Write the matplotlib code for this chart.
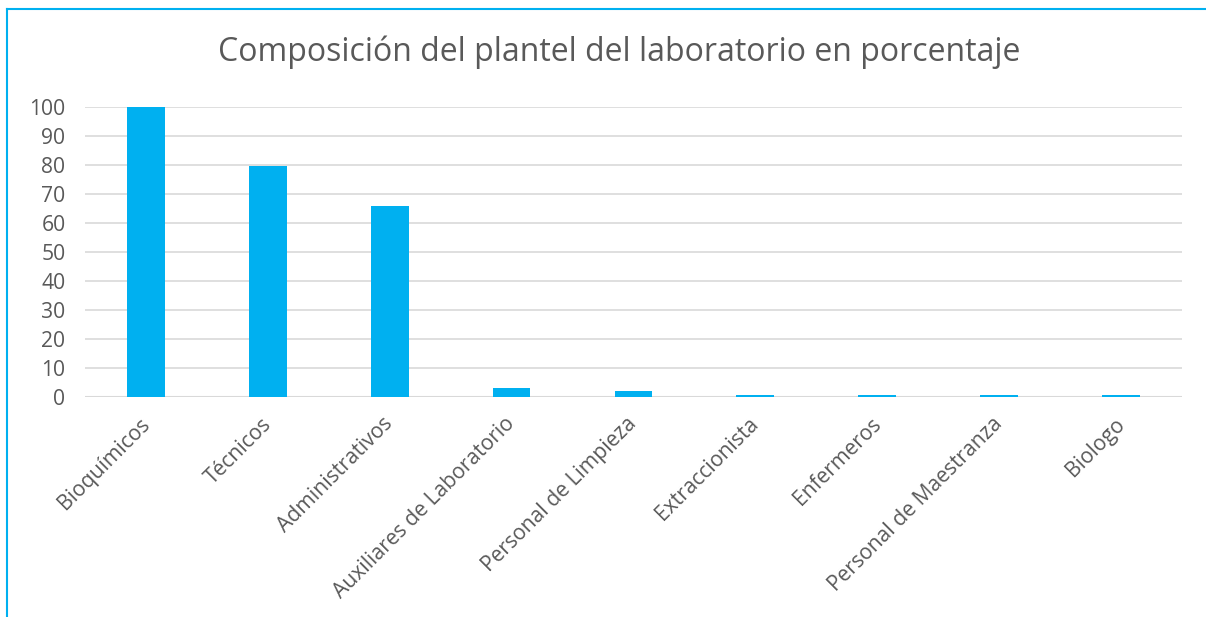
import matplotlib.pyplot as plt
from matplotlib.lines import Line2D
from matplotlib.transforms import ScaledTranslation

categorias = ["Bioquímicos", "Técnicos", "Administrativos", "Auxiliares de Laboratorio",
              "Personal de Limpieza", "Extraccionista", "Enfermeros",
              "Personal de Maestranza", "Biologo"]
porcentajes = [100, 79.5, 66, 3, 2, 0.8, 0.8, 0.8, 0.8]
yticks = list(range(0, 101, 10))

plt.rcParams['font.family'] = ['Open Sans', 'DejaVu Sans']

fig = plt.figure(figsize=(12.06, 6.17), dpi=100)
ax = fig.add_axes([0.0705, 0.3566, 0.9095, 0.47])

ax.bar(range(len(categorias)), porcentajes, width=0.31, color='#00B0F0', zorder=3)
ax.set_xlim(-0.5, len(categorias) - 0.5)
ax.set_ylim(0, 100)
ax.set_yticks(yticks)
ax.set_xticks(range(len(categorias)))
ax.set_xticklabels(categorias, rotation=45, ha='right', rotation_mode='anchor')
ax.grid(axis='y', color='#d9d9d9', linewidth=1.2, zorder=0)
ax.tick_params(length=0, colors='#595959', labelsize=15.2)
ax.tick_params(axis='y', pad=14)
ax.tick_params(axis='x', pad=12)
for s in ax.spines.values():
    s.set_visible(False)
ax.axhline(0, color='#d9d9d9', linewidth=1.5, zorder=2)

# mover las etiquetas un poco a la izquierda
desplazamiento = ScaledTranslation(-7/100, 0, fig.dpi_scale_trans)
for lbl in ax.get_xticklabels():
    lbl.set_transform(lbl.get_transform() + desplazamiento)

fig.text(0.5135, 0.915, "Composición del plantel del laboratorio en porcentaje",
         ha='center', va='center', fontsize=23, color='#595959')

# marco azul del grafico
fig.add_artist(Line2D([7/1206, 7/1206], [0, 1 - 9/617], color='#00B0F0', linewidth=1.5))
fig.add_artist(Line2D([7/1206, 1], [1 - 9/617, 1 - 9/617], color='#00B0F0', linewidth=1.5))

fig.savefig("out.png", dpi=100)
